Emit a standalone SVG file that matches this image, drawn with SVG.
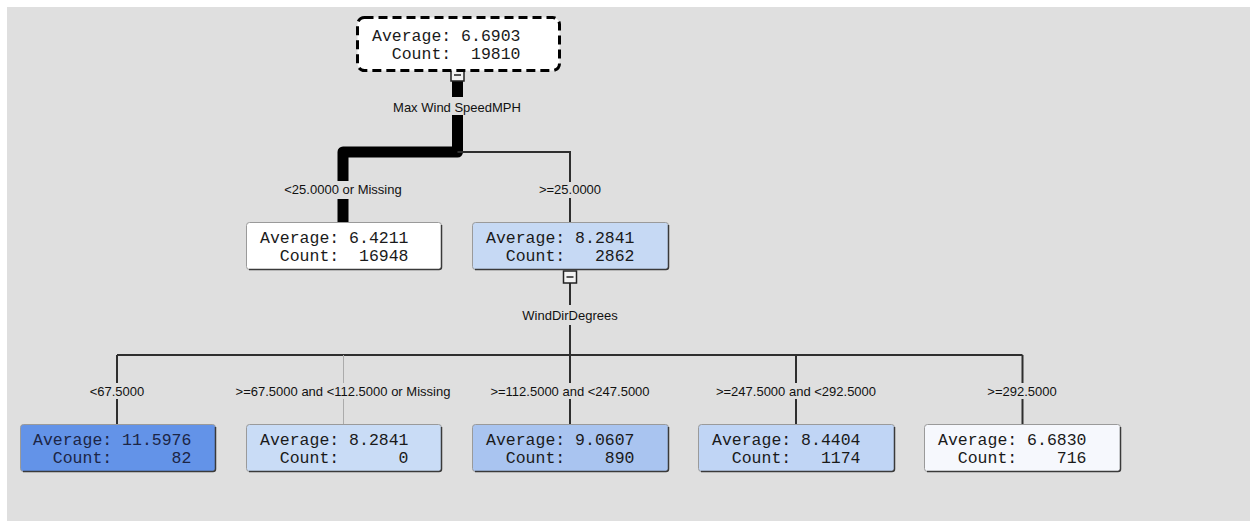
<svg xmlns="http://www.w3.org/2000/svg" width="1250" height="521" viewBox="0 0 1250 521">
  <style>
    .val { font-family: "Liberation Mono", "Courier New", monospace; font-size: 16.5px; fill: #1a1a1a; white-space: pre; }
    .lbl { font-family: "Liberation Sans", Arial, sans-serif; font-size: 13px; fill: #111; text-anchor: middle; }
    .box { stroke: #9a9a9a; stroke-width: 1; }
    .shade { fill: none; stroke: #3a3a3a; stroke-width: 1.5; }
    .thick { fill: none; stroke: #000; stroke-width: 11; stroke-linejoin: round; }
    .thin { fill: none; stroke: #2e2e2e; stroke-width: 2; }
    .faint { fill: none; stroke: #ababab; stroke-width: 1; }
    .toggle { fill: #f2f2f2; stroke: #222; stroke-width: 1.5; }
  </style>

  <!-- canvas -->
  <rect x="0" y="0" width="1250" height="521" fill="#ffffff"/>
  <rect x="7" y="7" width="1243" height="514" fill="#dfdfdf"/>

  <!-- branch lines -->
  <g id="connectors">
    <!-- Max Wind SpeedMPH split -->
    <path class="thick" d="M457.5 81 V97"/>
    <path class="thick" d="M457.5 115 V152 H343 V181"/>
    <path class="thick" d="M343 199 V222"/>
    <path class="thin" d="M457.5 152 H570 V182"/>
    <path class="thin" d="M570 198 V222"/>

    <!-- WindDirDegrees split -->
    <path class="thin" d="M570 283 V305"/>
    <path class="thin" d="M570 325 V355"/>
    <path class="thin" d="M117 355 H1022.5"/>
    <path class="thin" d="M117 355 V383 M117 399 V424"/>
    <path class="faint" d="M343.5 355 V383 M343.5 399 V424"/>
    <path class="thin" d="M570 355 V383 M570 399 V424"/>
    <path class="thin" d="M796 355 V383 M796 399 V424"/>
    <path class="thin" d="M1022.5 355 V383 M1022.5 399 V424"/>

    <!-- collapse toggles -->
    <rect class="toggle" x="451" y="69" width="13" height="12"/>
    <line x1="454" y1="75" x2="461" y2="75" stroke="#222" stroke-width="1.5"/>
    <rect class="toggle" x="563.5" y="271" width="13" height="12"/>
    <line x1="566.5" y1="277" x2="573.5" y2="277" stroke="#222" stroke-width="1.5"/>

    <!-- split variables and conditions -->
    <text class="lbl" x="457" y="112">Max Wind SpeedMPH</text>
    <text class="lbl" x="343" y="194">&lt;25.0000 or Missing</text>
    <text class="lbl" x="570" y="194">&gt;=25.0000</text>
    <text class="lbl" x="570" y="320">WindDirDegrees</text>
    <text class="lbl" x="117" y="396">&lt;67.5000</text>
    <text class="lbl" x="343" y="396">&gt;=67.5000 and &lt;112.5000 or Missing</text>
    <text class="lbl" x="570" y="396">&gt;=112.5000 and &lt;247.5000</text>
    <text class="lbl" x="796" y="396">&gt;=247.5000 and &lt;292.5000</text>
    <text class="lbl" x="1022" y="396">&gt;=292.5000</text>
  </g>

  <!-- root -->
  <g id="node-root">
    <rect x="357.5" y="17.5" width="202" height="53" rx="7" fill="#ffffff" stroke="#000" stroke-width="3" stroke-dasharray="9 5"/>
    <text class="val" x="372" y="41">Average: 6.6903</text>
    <text class="val" x="372" y="59">  Count:  19810</text>
  </g>

  <!-- Max Wind SpeedMPH < 25 -->
  <g id="node-wind-low">
    <rect class="box" x="246.5" y="222.5" width="195" height="47" rx="3" fill="#ffffff"/>
    <path class="shade" d="M441.5 225 V267 Q441.5 269.5 439 269.5 H249"/>
    <text class="val" x="260" y="243">Average: 6.4211</text>
    <text class="val" x="260" y="261">  Count:  16948</text>
  </g>

  <!-- Max Wind SpeedMPH >= 25 -->
  <g id="node-wind-high">
    <rect class="box" x="472.5" y="222.5" width="196" height="47" rx="3" fill="#c6d9f4"/>
    <path class="shade" d="M668.5 225 V267 Q668.5 269.5 666 269.5 H475"/>
    <text class="val" x="486" y="243">Average: 8.2841</text>
    <text class="val" x="486" y="261">  Count:   2862</text>
  </g>

  <!-- WindDirDegrees leaves -->
  <g id="node-dir-1">
    <rect class="box" x="20.5" y="424.5" width="195" height="47" rx="3" fill="#6393e8"/>
    <path class="shade" d="M215.5 427 V469 Q215.5 471.5 213 471.5 H23"/>
    <text class="val" x="33" y="445" style="fill:#1c2545">Average: 11.5976</text>
    <text class="val" x="33" y="463" style="fill:#1c2545">  Count:      82</text>
  </g>

  <g id="node-dir-2">
    <rect class="box" x="246.5" y="424.5" width="195" height="47" rx="3" fill="#c9dcf6"/>
    <path class="shade" d="M441.5 427 V469 Q441.5 471.5 439 471.5 H249"/>
    <text class="val" x="260" y="445">Average: 8.2841</text>
    <text class="val" x="260" y="463">  Count:      0</text>
  </g>

  <g id="node-dir-3">
    <rect class="box" x="472.5" y="424.5" width="196" height="47" rx="3" fill="#a9c4f0"/>
    <path class="shade" d="M668.5 427 V469 Q668.5 471.5 666 471.5 H475"/>
    <text class="val" x="486" y="445">Average: 9.0607</text>
    <text class="val" x="486" y="463">  Count:    890</text>
  </g>

  <g id="node-dir-4">
    <rect class="box" x="698.5" y="424.5" width="196" height="47" rx="3" fill="#c0d5f5"/>
    <path class="shade" d="M894.5 427 V469 Q894.5 471.5 892 471.5 H701"/>
    <text class="val" x="712" y="445">Average: 8.4404</text>
    <text class="val" x="712" y="463">  Count:   1174</text>
  </g>

  <g id="node-dir-5">
    <rect class="box" x="924.5" y="424.5" width="196" height="47" rx="3" fill="#f6f8fd"/>
    <path class="shade" d="M1120.5 427 V469 Q1120.5 471.5 1118 471.5 H927"/>
    <text class="val" x="938" y="445">Average: 6.6830</text>
    <text class="val" x="938" y="463">  Count:    716</text>
  </g>
</svg>
